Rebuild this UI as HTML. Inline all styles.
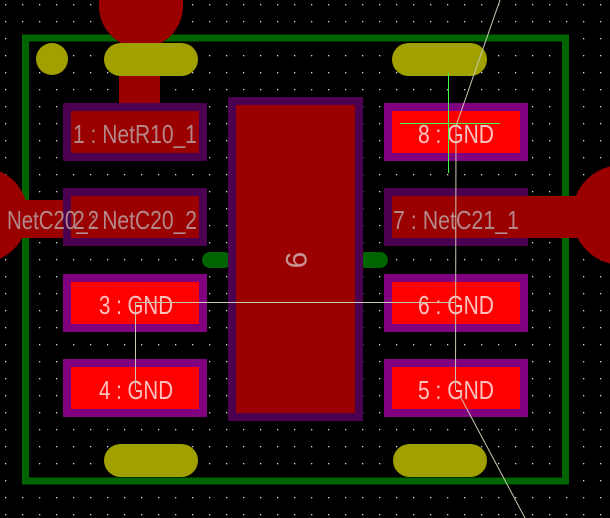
<!DOCTYPE html>
<html><head><meta charset="utf-8"><style>
html,body{margin:0;padding:0;background:#000;}
svg{display:block;}
text{font-family:"Liberation Sans Narrow","Liberation Sans",sans-serif;}
</style></head><body>
<svg width="610" height="518" viewBox="0 0 610 518" xmlns="http://www.w3.org/2000/svg">
<defs>
<pattern id="g" x="5" y="4" width="17" height="17" patternUnits="userSpaceOnUse">
<rect x="0" y="0" width="1.3" height="1.3" fill="#d8d8d8"/>
</pattern>
</defs>
<rect width="610" height="518" fill="#000"/>
<rect width="610" height="518" fill="url(#g)"/>
<rect x="25.5" y="38" width="540" height="443" fill="none" stroke="#006400" stroke-width="7"/>
<rect x="202" y="252" width="30" height="16" rx="8" fill="#006400"/>
<rect x="358" y="252" width="30" height="16" rx="8" fill="#006400"/>
<circle cx="141" cy="6" r="42" fill="#9b0000"/>
<rect x="99" y="0" width="84" height="10" fill="#9b0000"/>
<rect x="119" y="60" width="41" height="55" fill="#9b0000"/>
<circle cx="-20" cy="215" r="48" fill="#9b0000"/>
<rect x="0" y="200" width="75" height="38" fill="#9b0000"/>
<circle cx="622" cy="215" r="50" fill="#9b0000"/>
<rect x="63" y="103" width="144" height="58" fill="#4b0050"/>
<rect x="71" y="111" width="128" height="42" fill="#9b0000"/>
<rect x="63" y="188" width="144" height="58" fill="#4b0050"/>
<rect x="71" y="196" width="128" height="42" fill="#9b0000"/>
<rect x="63" y="274" width="144" height="58" fill="#800080"/>
<rect x="71" y="282" width="128" height="42" fill="#ff0000"/>
<rect x="63" y="359" width="144" height="58" fill="#800080"/>
<rect x="71" y="367" width="128" height="42" fill="#ff0000"/>
<rect x="384" y="103" width="144" height="58" fill="#800080"/>
<rect x="392" y="111" width="128" height="42" fill="#ff0000"/>
<rect x="384" y="188" width="144" height="58" fill="#4b0050"/>
<rect x="392" y="196" width="218" height="42" fill="#9b0000"/>
<rect x="384" y="274" width="144" height="58" fill="#800080"/>
<rect x="392" y="282" width="128" height="42" fill="#ff0000"/>
<rect x="384" y="359" width="144" height="58" fill="#800080"/>
<rect x="392" y="367" width="128" height="42" fill="#ff0000"/>
<rect x="228" y="97" width="135" height="324" fill="#4b0050"/>
<rect x="236" y="105" width="119" height="308" fill="#9b0000"/>
<circle cx="52" cy="59" r="16" fill="#a0a000"/>
<rect x="104" y="43" width="94" height="33" rx="16.5" fill="#a0a000"/>
<rect x="392" y="43" width="95" height="33" rx="16.5" fill="#a0a000"/>
<rect x="104" y="444" width="94" height="33" rx="16.5" fill="#a0a000"/>
<rect x="393" y="444" width="94" height="33" rx="16.5" fill="#a0a000"/>
<g font-size="26" text-anchor="middle">
<text x="135" y="143" fill="#b48888" textLength="124" lengthAdjust="spacingAndGlyphs">1 : NetR10_1</text>
<text x="135" y="229" fill="#b48888" textLength="124" lengthAdjust="spacingAndGlyphs">2 : NetC20_2</text>
<text x="53" y="229" fill="#b48888" textLength="92" lengthAdjust="spacingAndGlyphs">NetC20_2</text>
<text x="136" y="314" fill="#ffc0c0" textLength="74" lengthAdjust="spacingAndGlyphs">3 : GND</text>
<text x="136" y="399" fill="#ffc0c0" textLength="74" lengthAdjust="spacingAndGlyphs">4 : GND</text>
<text x="456" y="143" fill="#ffc0c0" textLength="76" lengthAdjust="spacingAndGlyphs">8 : GND</text>
<text x="456" y="229" fill="#b48888" textLength="126" lengthAdjust="spacingAndGlyphs">7 : NetC21_1</text>
<text x="456" y="314" fill="#ffc0c0" textLength="76" lengthAdjust="spacingAndGlyphs">6 : GND</text>
<text x="456" y="399" fill="#ffc0c0" textLength="76" lengthAdjust="spacingAndGlyphs">5 : GND</text>
<text x="0" y="0" fill="#c89090" font-size="30" transform="translate(296,260) rotate(90)" dy="10">9</text>
</g>
<g stroke="#40ff40" stroke-width="1">
<line x1="448.5" y1="73" x2="448.5" y2="173"/>
<line x1="400" y1="123.5" x2="500" y2="123.5"/>
</g>
<g stroke="#c8c8b0" stroke-width="1" fill="none">
<polyline points="500,0 456,126 455.5,390"/>
<polyline points="455,302.5 135.5,302.5 135.5,390"/>
<line x1="460" y1="396" x2="525" y2="518"/>
</g>
</svg>
</body></html>
